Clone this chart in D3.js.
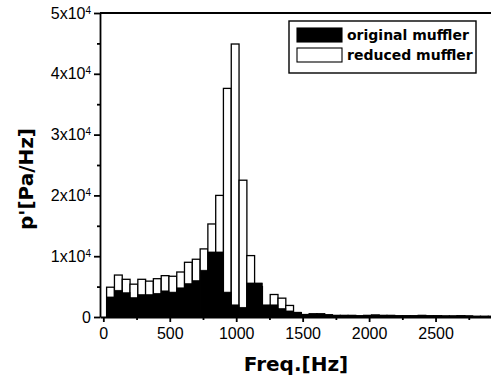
<!DOCTYPE html>
<html>
<head>
<meta charset="utf-8">
<script src="https://cdn.jsdelivr.net/npm/d3@7"></script>
<style>
  body { margin: 0; background: #fff; }
  svg { display: block; font-family: "DejaVu Sans", sans-serif; }
  .axis path, .axis line { stroke: #000; stroke-width: 1.8; }
  .axis text { font-size: 16px; fill: #000; }
</style>
</head>
<body>
<script>
var w = 491;
var h = 378;

var margin = {top: 13, right: -11, bottom: 61, left: 100},
    width = w - margin.left - margin.right,
    height = h - margin.top - margin.bottom;

// bin centres [Hz], bins are ~58.6 Hz wide
var freqs = [54, 113, 172, 230, 289, 347, 406, 465, 523, 582,
             640, 699, 758, 816, 875, 933, 992, 1051, 1109, 1168,
             1226, 1285, 1344, 1402, 1461, 1519, 1578, 1637, 1695, 1754,
             1812, 1871, 1930, 1988, 2047, 2105, 2164, 2223, 2281, 2340,
             2398, 2457, 2516, 2574, 2633, 2691, 2750, 2809, 2867, 2926];
var binWidth = 58.6;

// p' [Pa/Hz]
var original = [3300, 4400, 4000, 3200, 3700, 3700, 3900, 4300, 4100, 4800,
                5500, 6000, 7700, 10700, 10700, 4100, 2000, 1600, 5600, 5600,
                2000, 2000, 1400, 1000, 800, 450, 550, 550, 400, 300,
                300, 300, 250, 300, 350, 300, 300, 250, 250, 250,
                300, 250, 250, 200, 200, 250, 200, 150, 150, 150];
var reduced = [4900, 6900, 6200, 5400, 6200, 5900, 6300, 6800, 6700, 7400,
               9000, 9500, 11200, 15300, 20000, 37600, 44900, 22500, 10100, 5000,
               1700, 3700, 3100, 1900, 700, 400, 500, 500, 350, 250,
               250, 250, 200, 250, 300, 250, 250, 200, 200, 200,
               250, 200, 200, 150, 150, 200, 150, 100, 100, 100];

var yMajor = [0, 10000, 20000, 30000, 40000, 50000];
var yMinor = [5000, 15000, 25000, 35000, 45000];
var xMajor = [0, 500, 1000, 1500, 2000, 2500];
var xMinor = [250, 750, 1250, 1750, 2250, 2750];

var x = d3.scaleLinear().domain([-25, 3000]).range([0, width]);
var y = d3.scaleLinear().domain([0, 50000]).range([height, 0]);

var svg = d3.select("body").append("svg")
    .attr("width", w)
    .attr("height", h);

var chart = svg.append("g")
    .attr("transform", "translate(" + margin.left + "," + margin.top + ")");

// reduced muffler (white, behind)
chart.append("g").selectAll("rect")
    .data(freqs)
    .enter().append("rect")
    .attr("x", function(d) { return x(d - binWidth / 2); })
    .attr("width", function(d) { return x(d + binWidth / 2) - x(d - binWidth / 2); })
    .attr("y", function(d, i) { return y(reduced[i]); })
    .attr("height", function(d, i) { return height - y(reduced[i]); })
    .attr("fill", "#fff")
    .attr("stroke", "#000")
    .attr("stroke-width", 1.3);

// original muffler (black, in front)
chart.append("g").selectAll("rect")
    .data(freqs)
    .enter().append("rect")
    .attr("x", function(d) { return x(d - binWidth / 2); })
    .attr("width", function(d) { return x(d + binWidth / 2) - x(d - binWidth / 2); })
    .attr("y", function(d, i) { return y(original[i]); })
    .attr("height", function(d, i) { return height - y(original[i]); })
    .attr("fill", "#000")
    .attr("stroke", "#000")
    .attr("stroke-width", 0.6);

// x axis
chart.append("g")
    .attr("class", "axis")
    .attr("transform", "translate(0," + height + ")")
    .call(d3.axisBottom(x).tickValues(xMajor).tickSize(5).tickSizeOuter(0).tickPadding(6).tickFormat(d3.format("d")));

chart.append("g")
    .attr("class", "axis")
    .attr("transform", "translate(0," + height + ")")
    .call(d3.axisBottom(x).tickValues(xMinor).tickSize(3).tickSizeOuter(0).tickFormat(""))
    .select(".domain").remove();

// y axis
var yAxis = chart.append("g")
    .attr("class", "axis")
    .call(d3.axisLeft(y).tickValues(yMajor).tickSize(6).tickSizeOuter(0).tickPadding(3));

yAxis.selectAll(".tick text").each(function(d) {
    var t = d3.select(this).text("");
    if (d === 0) { t.text("0"); return; }
    t.append("tspan").text((d / 10000) + "x10");
    t.append("tspan").attr("dy", "-0.5em").attr("font-size", "10px").text("4");
});

chart.append("g")
    .attr("class", "axis")
    .call(d3.axisLeft(y).tickValues(yMinor).tickSize(3).tickFormat(""))
    .select(".domain").remove();

// top frame line
chart.append("line")
    .attr("x1", 0).attr("x2", width)
    .attr("y1", 0).attr("y2", 0)
    .attr("stroke", "#000")
    .attr("stroke-width", 1.8);

// axis titles
chart.append("text")
    .attr("x", 196)
    .attr("y", 358)
    .attr("text-anchor", "middle")
    .attr("font-weight", "bold")
    .attr("font-size", "20px")
    .text("Freq.[Hz]");

chart.append("text")
    .attr("transform", "translate(-67," + 166 + ") rotate(-90)")
    .attr("text-anchor", "middle")
    .attr("font-weight", "bold")
    .attr("font-size", "20px")
    .text("p'[Pa/Hz]");

// legend - top right
var legend = chart.append("g")
    .attr("transform", "translate(189,8)");

legend.append("rect")
    .attr("width", 187)
    .attr("height", 52)
    .attr("fill", "#fff")
    .attr("stroke", "#000")
    .attr("stroke-width", 1.4);

var keys = ["original muffler", "reduced muffler"];

var item = legend.selectAll(".item")
    .data(keys)
    .enter().append("g")
    .attr("class", "item")
    .attr("transform", function(d, i) { return "translate(8," + (7 + i * 20) + ")"; });

item.append("rect")
    .attr("width", 45)
    .attr("height", 14)
    .attr("fill", function(d, i) { return i === 0 ? "#000" : "#fff"; })
    .attr("stroke", "#000")
    .attr("stroke-width", 1.1);

item.append("text")
    .attr("x", 50)
    .attr("y", 12)
    .attr("font-weight", "bold")
    .attr("font-size", "14px")
    .text(function(d) { return d; });
</script>
</body>
</html>
